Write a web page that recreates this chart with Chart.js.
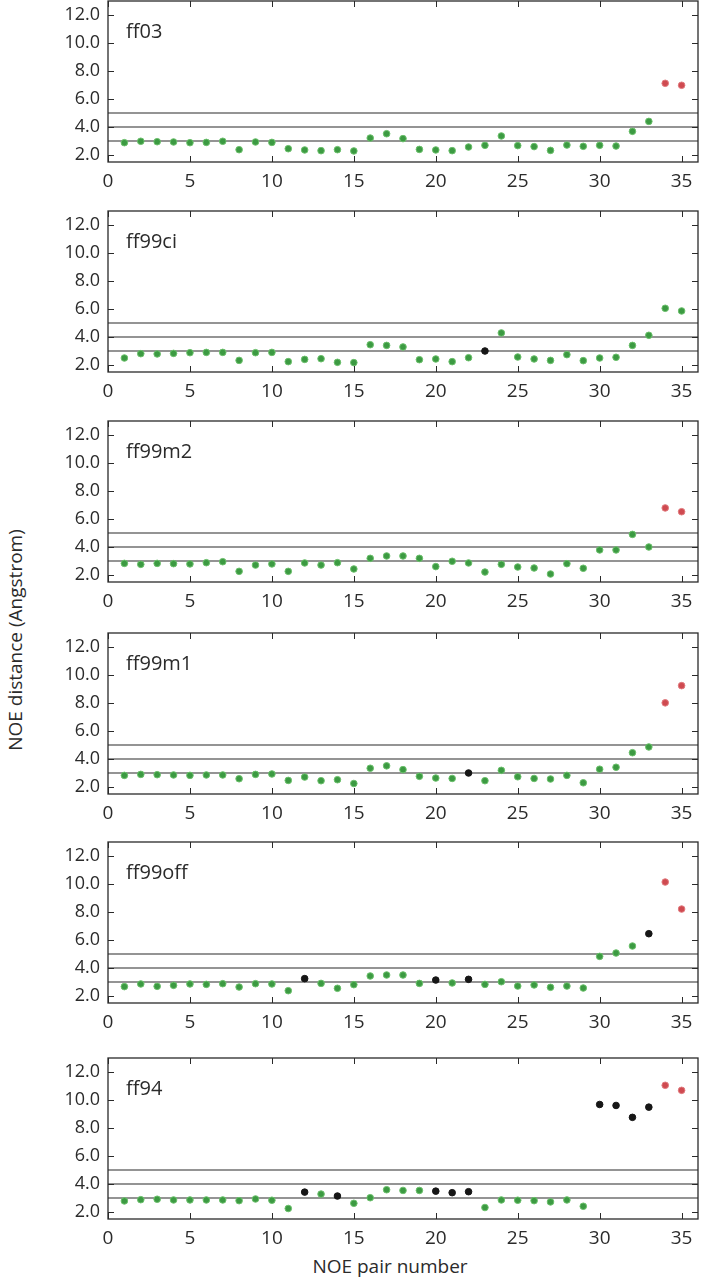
<!DOCTYPE html>
<html>
<head>
<meta charset="utf-8">
<script src="https://cdn.jsdelivr.net/npm/chart.js@4.4.0/dist/chart.umd.min.js"></script>
<style>
html,body{margin:0;padding:0;background:#fff;}
body{width:703px;height:1280px;position:relative;overflow:hidden;}
canvas{position:absolute;left:0;}
#ytitle{position:absolute;left:15px;top:640px;transform:translate(-50%,-50%) rotate(-90deg);white-space:nowrap;font:19px "Open Sans",sans-serif;color:#2b2b2b;}
#xtitle{position:absolute;left:390px;top:1266px;transform:translate(-50%,-50%);white-space:nowrap;font:19px "Open Sans",sans-serif;color:#2b2b2b;}
</style>
</head>
<body>
<div id="ytitle">NOE distance (Angstrom)</div>
<div id="xtitle">NOE pair number</div>
<script>
// ---------- data ----------
const pairNumbers = [1,2,3,4,5,6,7,8,9,10,11,12,13,14,15,16,17,18,19,20,21,22,23,24,25,26,27,28,29,30,31,32,33,34,35];
const xTicks = [0,5,10,15,20,25,30,35];
const yTicks = [2,4,6,8,10,12];
const refLines = [3,4,5];
const panelNames = ['ff03','ff99ci','ff99m2','ff99m1','ff99off','ff94'];

const ff03 = [2.88,2.98,2.95,2.93,2.88,2.90,2.98,2.38,2.93,2.90,2.45,2.36,2.31,2.38,2.29,3.21,3.52,3.17,2.40,2.36,2.31,2.57,2.69,3.36,2.67,2.60,2.33,2.71,2.62,2.69,2.64,3.69,4.40,7.12,6.98];
const ff99ci = [2.50,2.81,2.79,2.83,2.88,2.90,2.90,2.33,2.88,2.90,2.24,2.40,2.45,2.19,2.17,3.45,3.40,3.29,2.38,2.43,2.24,2.52,3.00,4.29,2.57,2.43,2.33,2.74,2.31,2.50,2.55,3.40,4.12,6.05,5.86];
const ff99m2 = [2.83,2.76,2.83,2.81,2.79,2.88,2.95,2.26,2.71,2.79,2.26,2.86,2.71,2.88,2.43,3.19,3.36,3.36,3.19,2.60,2.98,2.86,2.21,2.76,2.57,2.50,2.07,2.81,2.48,3.79,3.79,4.90,4.00,6.79,6.52];
const ff99m1 = [2.83,2.90,2.88,2.86,2.83,2.86,2.86,2.59,2.90,2.93,2.47,2.71,2.45,2.52,2.25,3.34,3.51,3.24,2.76,2.64,2.61,3.00,2.45,3.19,2.73,2.61,2.57,2.83,2.30,3.27,3.41,4.45,4.86,8.01,9.24];
const ff99off = [2.67,2.86,2.69,2.76,2.86,2.83,2.88,2.64,2.88,2.86,2.38,3.24,2.90,2.55,2.81,3.43,3.50,3.50,2.90,3.14,2.93,3.19,2.83,3.02,2.71,2.79,2.62,2.71,2.57,4.83,5.07,5.57,6.45,10.14,8.21];
const ff94 = [2.79,2.88,2.91,2.86,2.86,2.86,2.86,2.81,2.93,2.84,2.25,3.42,3.28,3.14,2.62,3.02,3.59,3.54,3.54,3.49,3.38,3.45,2.32,2.86,2.84,2.81,2.72,2.86,2.41,9.68,9.61,8.76,9.49,11.05,10.69];

// pairs drawn red / black in each panel (others green)
const ff03Red = [34,35],   ff03Black = [];
const ff99ciRed = [],      ff99ciBlack = [23];
const ff99m2Red = [34,35], ff99m2Black = [];
const ff99m1Red = [34,35], ff99m1Black = [22];
const ff99offRed = [34,35], ff99offBlack = [12,20,22,33];
const ff94Red = [34,35],   ff94Black = [12,14,20,21,22,30,31,32,33];

// ---------- layout ----------
const panelValues = [ff03, ff99ci, ff99m2, ff99m1, ff99off, ff94];
const panelRed = [ff03Red, ff99ciRed, ff99m2Red, ff99m1Red, ff99offRed, ff94Red];
const panelBlack = [ff03Black, ff99ciBlack, ff99m2Black, ff99m1Black, ff99offBlack, ff94Black];
const panelTops = [1, 211, 421, 633, 842, 1058];
const PLOT_H = 161, PAD_TOP = 2, XAXIS_H = 42;

const TXT = '#2b2b2b';
const GREEN = '#3c9a42', GREEN_EDGE = '#6cc06c';
const RED = '#cf4a50', RED_EDGE = '#e07a7e';
const BLACK = '#161616';

const framePlugin = {
  id: 'frame',
  afterDatasetsDraw(chart, args, opts) {
    const {ctx, chartArea: a, scales: {x, y}} = chart;
    ctx.save();
    ctx.strokeStyle = '#2a2a2a';
    ctx.lineWidth = 1.3;
    ctx.strokeRect(a.left, a.top, a.right - a.left, a.bottom - a.top);
    ctx.beginPath();
    xTicks.forEach(v => {
      const px = Math.round(x.getPixelForValue(v)) + 0.5;
      ctx.moveTo(px, a.bottom); ctx.lineTo(px, a.bottom - 6);
      ctx.moveTo(px, a.top); ctx.lineTo(px, a.top + 6);
    });
    yTicks.forEach(v => {
      const py = Math.round(y.getPixelForValue(v)) + 0.5;
      ctx.moveTo(a.left, py); ctx.lineTo(a.left + 6, py);
      ctx.moveTo(a.right, py); ctx.lineTo(a.right - 6, py);
    });
    ctx.lineWidth = 1;
    ctx.stroke();
    ctx.fillStyle = TXT;
    ctx.font = '20px "Open Sans"';
    ctx.textBaseline = 'middle';
    ctx.textAlign = 'left';
    ctx.fillText(opts.label, a.left + 18, a.top + 31);
    ctx.restore();
  }
};

function zeroPad(s) {
  s.paddingTop = 0; s.paddingBottom = 0; s.paddingLeft = 0; s.paddingRight = 0;
}

panelNames.forEach((name, i) => {
  const cv = document.createElement('canvas');
  const H = PAD_TOP + PLOT_H + XAXIS_H;
  cv.width = 703; cv.height = H;
  cv.style.width = '703px'; cv.style.height = H + 'px';
  cv.style.top = (panelTops[i] - PAD_TOP) + 'px';
  document.body.appendChild(cv);

  const vals = panelValues[i];
  const pts = pairNumbers.map((n, k) => ({x: n, y: vals[k]}));
  const fill = pairNumbers.map(n => panelRed[i].includes(n) ? RED : panelBlack[i].includes(n) ? BLACK : GREEN);
  const edge = pairNumbers.map(n => panelRed[i].includes(n) ? RED_EDGE : panelBlack[i].includes(n) ? BLACK : GREEN_EDGE);

  const datasets = [{
    type: 'scatter', data: pts, order: 0,
    backgroundColor: fill, borderColor: edge, borderWidth: 1, pointRadius: 3.3
  }];
  refLines.forEach(r => datasets.push({
    type: 'line', order: 1,
    data: [{x: 0, y: r}, {x: 36, y: r}],
    borderColor: '#2a2a2a', borderWidth: 1.2, pointRadius: 0, fill: false
  }));

  new Chart(cv, {
    type: 'scatter',
    data: {datasets},
    options: {
      responsive: false, animation: false, devicePixelRatio: 1,
      layout: {autoPadding: false, padding: {top: PAD_TOP, right: 5, left: 0, bottom: 0}},
      plugins: {legend: {display: false}, tooltip: {enabled: false}, frame: {label: name}},
      scales: {
        x: {
          type: 'linear', min: 0, max: 36,
          grid: {display: false, drawTicks: false}, border: {display: false},
          afterBuildTicks: s => { s.ticks = xTicks.map(v => ({value: v})); },
          afterFit: s => { s.height = XAXIS_H; zeroPad(s); },
          ticks: {autoSkip: false, maxRotation: 0, padding: 8, color: TXT,
                  font: {family: 'Open Sans', size: 19}, callback: v => String(v)}
        },
        y: {
          type: 'linear', min: 1.5, max: 13,
          grid: {display: false, drawTicks: false}, border: {display: false},
          afterBuildTicks: s => { s.ticks = yTicks.map(v => ({value: v})); },
          afterFit: s => { s.width = 108; zeroPad(s); },
          ticks: {autoSkip: false, padding: 8, color: TXT,
                  font: {family: 'Open Sans', size: 18}, callback: v => Number(v).toFixed(1)}
        }
      }
    },
    plugins: [framePlugin]
  });
});
</script>
</body>
</html>
